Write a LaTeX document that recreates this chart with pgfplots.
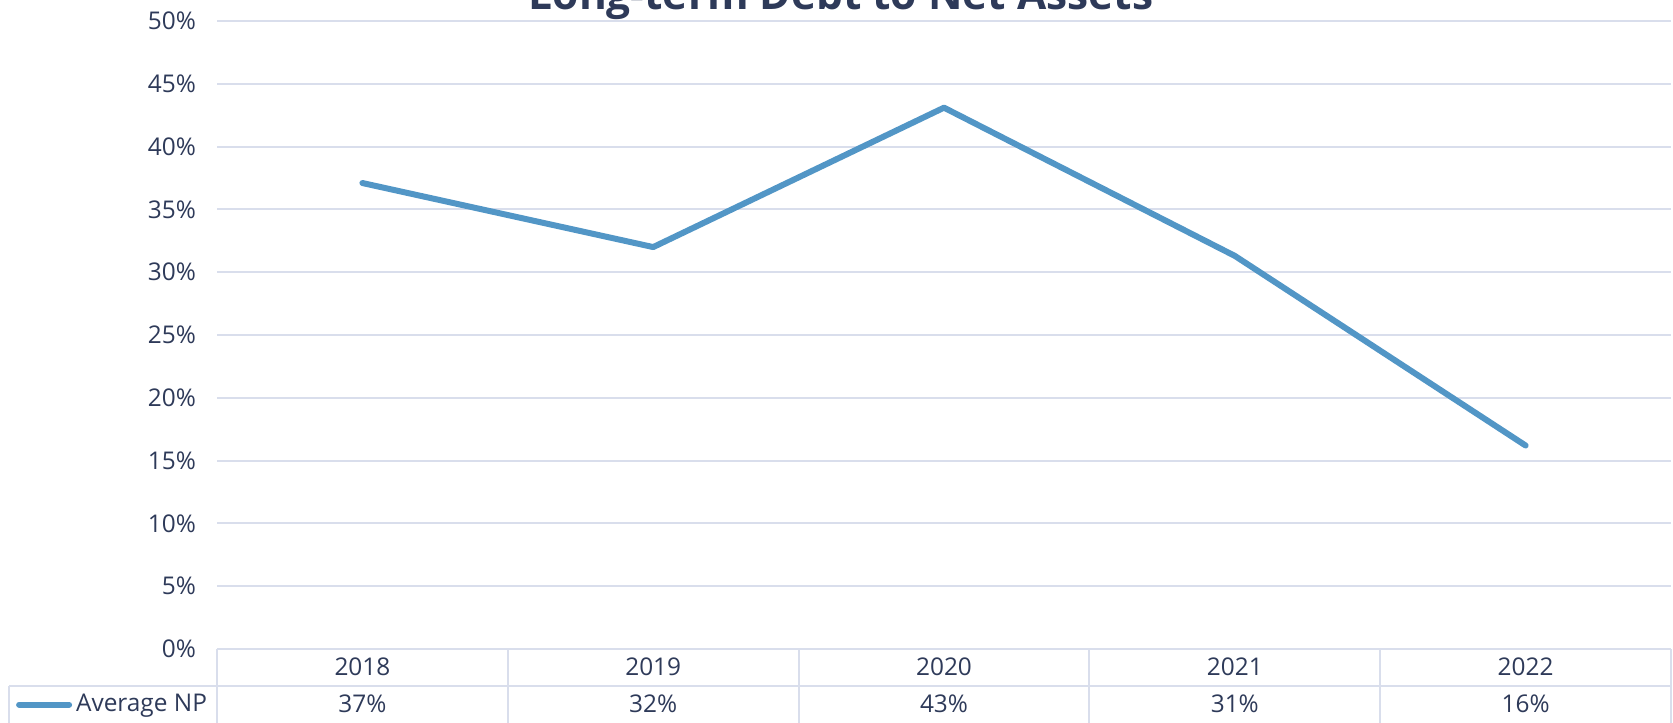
\documentclass[border=0pt]{standalone}
\usepackage{fontspec}
\setmainfont{Open Sans}
\usepackage{pgfplots}
\pgfplotsset{compat=1.18}
\usepackage{pgfplotstable}

\definecolor{ink}{RGB}{46,58,89}
\definecolor{gridc}{RGB}{217,222,236}
\definecolor{npblue}{RGB}{82,150,198}

% Long-term debt as a share of net assets, per year
\pgfplotstableread{
i year v
0 2018 37.1
1 2019 32.0
2 2020 43.1
3 2021 31.3
4 2022 16.2
}\ratio

\begin{document}
\begin{tikzpicture}
\useasboundingbox (0pt,0pt) rectangle (836.5pt,361pt);
\tikzset{tbl/.style={draw=gridc, line width=1pt}}
\begin{axis}[
  at={(108.5pt,36.5pt)}, anchor=south west,
  scale only axis, width=727pt, height=314pt,
  xmin=-0.5, xmax=4.5, ymin=0, ymax=50,
  clip=false,
  axis line style={draw=none},
  tick style={draw=none},
  ytick={0,5,...,50},
  yticklabel={\pgfmathprintnumber{\tick}\%},
  /pgf/number format/assume math mode=true,
  ymajorgrids,
  major grid style={gridc, line width=1pt},
  xtick={0,...,4},
  xticklabels from table={\ratio}{year},
  ticklabel style={font=\fontsize{12.2}{14}\selectfont, text=ink},
  yticklabel style={anchor=east, xshift=-7pt},
  xticklabel style={anchor=center, yshift=-8.7pt},
  legend style={at={(rel axis cs:-0.13845,-0.0887)}, anchor=west,
    draw=none, fill=none, inner sep=0pt,
    nodes={inner sep=0pt, text=ink, font=\fontsize{12.2}{14}\selectfont},
    column sep=2pt},
  legend image code/.code={\draw[npblue, line width=3pt, line cap=round] (0pt,0pt) -- (25pt,0pt);},
]
\addplot[npblue, line width=3pt, line join=round, line cap=round]
  table[x=i, y=v] {\ratio};
\addlegendentry{Average NP}

% value row of the data table
\addplot[draw=none, forget plot, point meta=explicit,
  nodes near coords={\pgfmathprintnumber[fixed,precision=0]{\pgfplotspointmeta}\%},
  every node near coord/.append style={anchor=center, text=ink, font=\fontsize{12.2}{14}\selectfont}]
  table[x=i, y expr=-4.38, meta=v] {\ratio};

% data table rules
\draw[tbl] (axis cs:-0.5,0) -- (axis cs:4.5,0);
\draw[tbl] ([xshift=-103.75pt, yshift=-18.35pt]axis cs:-0.5,0) -- ([yshift=-18.35pt]axis cs:4.5,0);
\draw[tbl] ([xshift=-103.75pt, yshift=-18.35pt]axis cs:-0.5,0) -- ([xshift=-103.75pt, yshift=-60pt]axis cs:-0.5,0);
\pgfplotsinvokeforeach{-0.5,0.5,1.5,2.5,3.5,4.5}{
  \draw[tbl] (axis cs:#1,0) -- ([yshift=-60pt]axis cs:#1,0);
}
\end{axis}
\node[anchor=base, text=ink, font=\bfseries\fontsize{21.2}{26}\selectfont]
  at (420.5pt,356.4pt) {Long-term Debt to Net Assets};
\end{tikzpicture}
\end{document}
